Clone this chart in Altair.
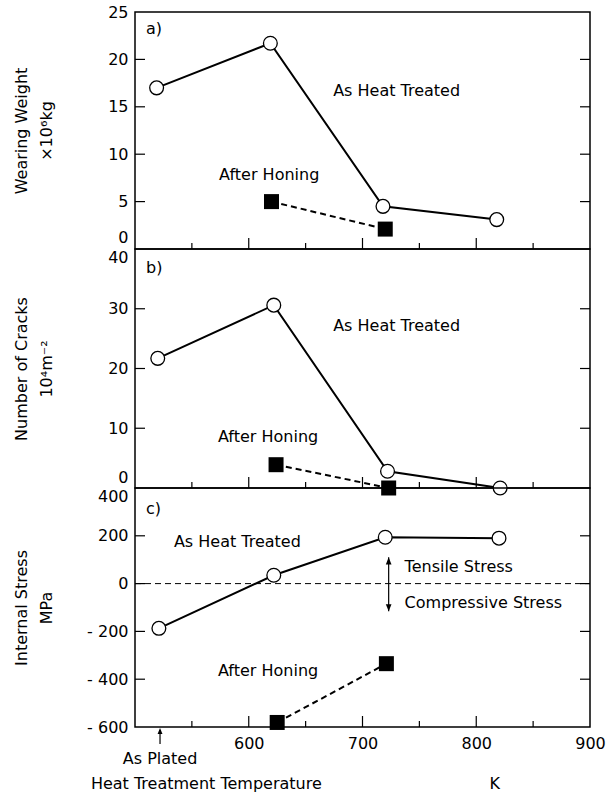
import altair as alt
import pandas as pd

FONT = "DejaVu Sans"
FS = 16
W = 455
XDOM = [500, 900]

# a) wearing weight (x10^6 kg) against heat treatment temperature (K)
temp_a = [519, 619, 718, 818]
wear_heat = [17.0, 21.7, 4.5, 3.1]
temp_a_hon = [620, 720]
wear_hon = [5.0, 2.1]

# b) number of cracks (10^4 m^-2)
temp_b = [520, 622, 722, 821]
cracks_heat = [21.7, 30.6, 2.8, 0.0]
temp_b_hon = [624, 723]
cracks_hon = [3.9, 0.0]

# c) internal stress (MPa)
temp_c = [521, 622, 720, 820]
stress_heat = [-187, 35, 194, 190]
temp_c_hon = [625, 721]
stress_hon = [-581, -335]

x_major = [600, 700, 800]
x_minor = [550, 650, 750, 850]
x_labels = [600, 700, 800, 900]
as_plated_temp = 522

# arrow heads with the tip at the symbol origin
ARROW_UP = "M0,0L-0.4,1L0.4,1Z"
ARROW_DOWN = "M0,0L-0.4,-1L0.4,-1Z"


def xenc(axis=None):
    return alt.X("t:Q", scale=alt.Scale(domain=XDOM, nice=False, zero=False), axis=axis)


def yenc(dom, axis=None):
    return alt.Y("v:Q", scale=alt.Scale(domain=dom, nice=False, zero=False), axis=axis)


def y_axis(title, vals, height, baseline=None, offset=None, flush=False, label_expr=None):
    kw = dict(values=vals, ticks=False, domain=False, grid=False, labelPadding=7,
              labelFlush=flush, title=title, titleX=-122, titleY=height / 2,
              titleAngle=270, titleBaseline="top", titleAlign="center",
              titleLineHeight=25)
    if baseline is not None:
        kw["labelBaseline"] = baseline
    if offset is not None:
        kw["labelOffset"] = offset
    if label_expr is not None:
        kw["labelExpr"] = label_expr
    return alt.Axis(**kw)


def frame_ticks(height, yvals):
    major = alt.Chart(pd.DataFrame({"t": x_major})).mark_rule(
        color="black", strokeWidth=1.2).encode(y=alt.value(height), y2=alt.value(height - 11))
    minor = alt.Chart(pd.DataFrame({"t": x_minor})).mark_rule(
        color="black", strokeWidth=1.2).encode(y=alt.value(height), y2=alt.value(height - 6))
    yt = pd.DataFrame({"v": yvals})
    left = alt.Chart(yt).mark_rule(color="black", strokeWidth=1.2).encode(
        x=alt.value(0), x2=alt.value(10))
    right = alt.Chart(yt).mark_rule(color="black", strokeWidth=1.2).encode(
        x=alt.value(W), x2=alt.value(W - 10))
    return [major, minor, left, right]


def series(xs, ys, hx, hy):
    heat = pd.DataFrame({"t": xs, "v": ys})
    hon = pd.DataFrame({"t": hx, "v": hy})
    line = alt.Chart(heat).mark_line(color="black", strokeWidth=2)
    hline = alt.Chart(hon).mark_line(color="black", strokeWidth=2, strokeDash=[6, 4])
    pts = alt.Chart(heat).mark_point(shape="circle", fill="white", stroke="black",
                                     strokeWidth=1.3, size=190, opacity=1, fillOpacity=1)
    sq = alt.Chart(hon).mark_point(shape="square", filled=True, color="black",
                                   size=225, opacity=1)
    return [line, hline, pts, sq]


def notes(rows, align="center"):
    df = pd.DataFrame(rows, columns=["s", "t", "v"])
    return alt.Chart(df).mark_text(font=FONT, fontSize=FS, align=align, baseline="middle",
                                   color="black").encode(text="s:N")


def letter(txt, ypix):
    return alt.Chart(pd.DataFrame({"s": [txt]})).mark_text(
        font=FONT, fontSize=FS, align="left", baseline="middle", color="black").encode(
        x=alt.value(11), y=alt.value(ypix), text="s:N")


# ---- panel a
HA = 237
dom_a = [0, 25]
ax_a = y_axis(["Wearing Weight", "×10⁶kg"], [0, 5, 10, 15, 20, 25], HA,
              baseline={"condition": {"test": "datum.value == 0", "value": "bottom"},
                        "value": "middle"},
              offset={"condition": {"test": "datum.value == 0", "value": -4},
                      "value": 0})
panel_a = alt.layer(
    *series(temp_a, wear_heat, temp_a_hon, wear_hon),
    *frame_ticks(HA, [5, 10, 15, 20]),
    notes([["As Heat Treated", 730, 16.7], ["After Honing", 618, 7.8]]),
    letter("a)", 17),
).encode(x=xenc(), y=yenc(dom_a, ax_a)).properties(width=W, height=HA)

# ---- panel b
HB = 239
dom_b = [0, 40]
ax_b = y_axis(["Number of Cracks", "10⁴m⁻²"], [0, 10, 20, 30, 40], HB, flush=True,
              offset={"condition": {"test": "datum.value == 0", "value": -3},
                      "value": 0})
panel_b = alt.layer(
    *series(temp_b, cracks_heat, temp_b_hon, cracks_hon),
    *frame_ticks(HB, [10, 20, 30]),
    notes([["As Heat Treated", 730, 27.1], ["After Honing", 617, 8.6]]),
    letter("b)", 19),
).encode(x=xenc(), y=yenc(dom_b, ax_b)).properties(width=W, height=HB)

# ---- panel c
HC = 239
dom_c = [-600, 400]
ax_c = y_axis(["Internal Stress", "MPa"], [-600, -400, -200, 0, 200, 400], HC,
              baseline={"condition": {"test": "datum.value == 400", "value": "top"},
                        "value": "middle"},
              label_expr="datum.value < 0 ? '- ' + abs(datum.value) : datum.label")
x_title = "Heat Treatment Temperature" + "\u00a0" * 33 + "K"
ax_x = alt.Axis(values=x_labels, ticks=False, domain=False, grid=False, labelFlush=False,
                labelPadding=8, title=x_title, titleX=160, titleY=56,
                titleBaseline="middle", titleAlign="center")

zero = alt.Chart(pd.DataFrame({"v": [0]})).mark_rule(
    color="black", strokeWidth=1, strokeDash=[6, 4]).encode(x=alt.value(0), x2=alt.value(W))

# tensile / compressive double arrow
arrow_top = pd.DataFrame({"t": [723], "v": [110]})
arrow_bottom = pd.DataFrame({"t": [723], "v": [-116]})
shaft = alt.Chart(pd.DataFrame({"t": [723], "v": [110], "v2": [-116]})).mark_rule(
    color="black", strokeWidth=1.2).encode(y2="v2:Q")
head_up = alt.Chart(arrow_top).mark_point(shape=ARROW_UP, filled=True, color="black",
                                          size=200, opacity=1)
head_dn = alt.Chart(arrow_bottom).mark_point(shape=ARROW_DOWN, filled=True, color="black",
                                             size=200, opacity=1)

plated_df = pd.DataFrame({"t": [as_plated_temp], "s": ["As Plated"]})
plated_shaft = alt.Chart(plated_df).mark_rule(color="black", strokeWidth=1.2).encode(
    y=alt.value(HC + 3), y2=alt.value(HC + 17))
plated_head = alt.Chart(plated_df).mark_point(shape=ARROW_UP, filled=True, color="black",
                                              size=150, opacity=1).encode(
    y=alt.value(HC + 1))
plated_text = alt.Chart(plated_df).mark_text(font=FONT, fontSize=FS, align="center",
                                             baseline="middle", color="black").encode(
    y=alt.value(HC + 32), text="s:N")

panel_c = alt.layer(
    zero,
    *series(temp_c, stress_heat, temp_c_hon, stress_hon),
    *frame_ticks(HC, [-400, -200, 0, 200]),
    notes([["As Heat Treated", 590, 174], ["After Honing", 617, -364]]),
    notes([["Tensile Stress", 737, 70], ["Compressive Stress", 737, -83]], align="left"),
    shaft, head_up, head_dn,
    plated_shaft, plated_head, plated_text,
    letter("c)", 21),
).encode(x=xenc(ax_x), y=yenc(dom_c, ax_c)).properties(width=W, height=HC)

chart = alt.vconcat(panel_a, panel_b, panel_c, spacing=0, bounds="flush").properties(
    padding={"left": 12, "top": 3, "right": 5, "bottom": 5}
).configure_view(
    stroke="black", strokeWidth=1.5
).configure_axis(
    labelFont=FONT, titleFont=FONT, labelFontSize=FS, titleFontSize=FS,
    titleFontWeight="normal", labelColor="black", titleColor="black"
)

chart.save("out.html", embed_options={"renderer": "svg", "actions": False})
